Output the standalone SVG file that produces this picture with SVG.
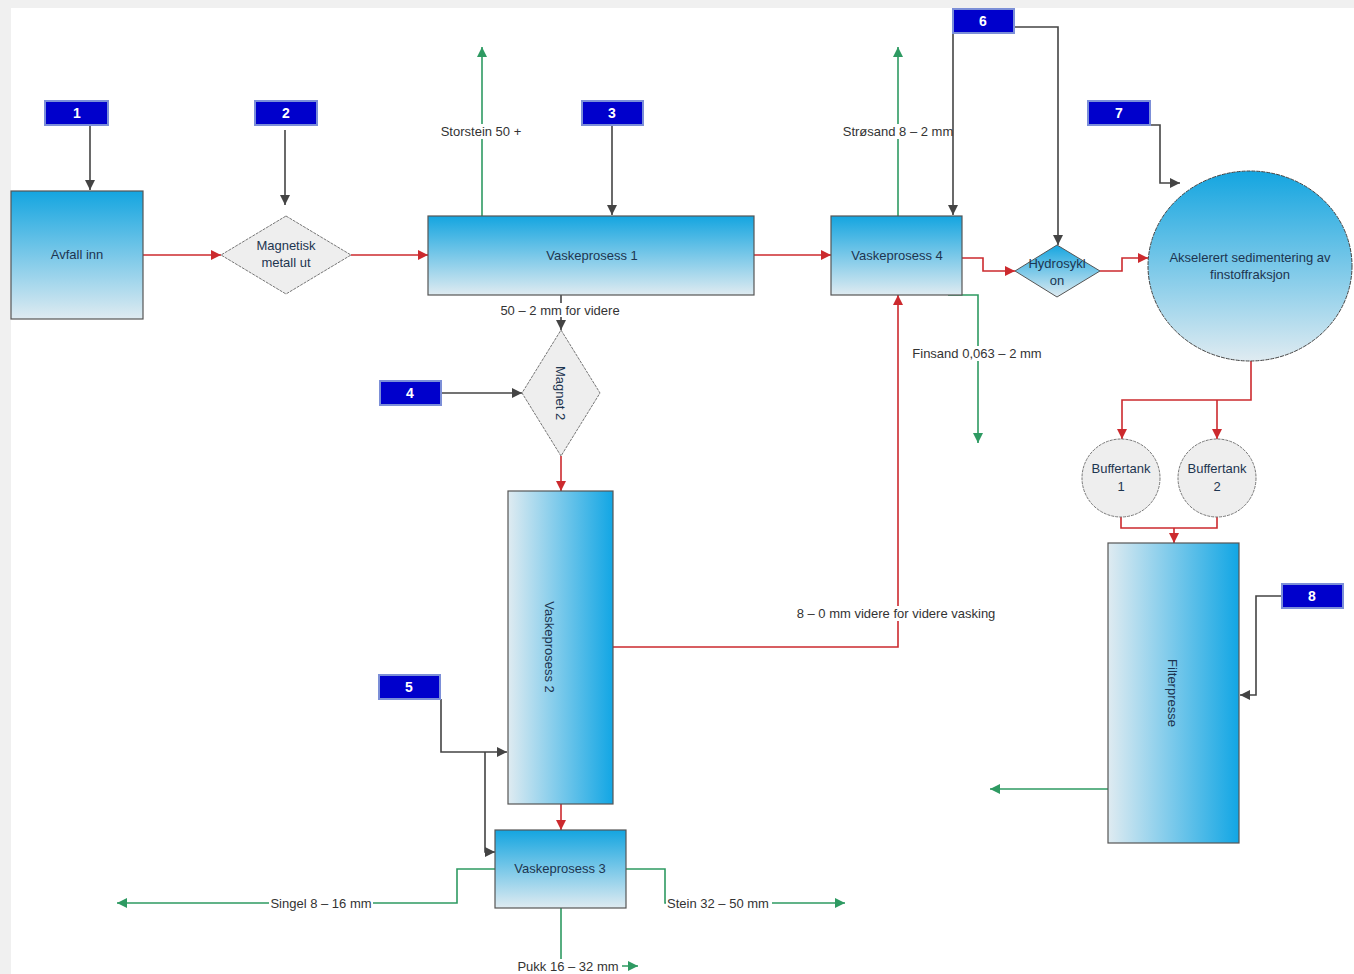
<svg xmlns="http://www.w3.org/2000/svg" width="1354" height="974" viewBox="0 0 1354 974">
<style>
.t{font-family:"Liberation Sans",Arial,sans-serif;font-size:13px;fill:#1d3550;text-anchor:middle}
.l{font-family:"Liberation Sans",Arial,sans-serif;font-size:13px;fill:#333;text-anchor:middle}
.num{font-family:"Liberation Sans",Arial,sans-serif;font-size:14px;font-weight:bold;fill:#fff;text-anchor:middle}
.tag{fill:#0000cc;stroke:#7c8fd8;stroke-width:2}
.box{stroke:#555;stroke-width:1.2}
.gray{fill:#eeeeee;stroke:#777;stroke-width:1;stroke-dasharray:3 1}
.red{fill:none;stroke:#cc2a2e;stroke-width:1.6}
.grn{fill:none;stroke:#2e9a62;stroke-width:1.6}
.drk{fill:none;stroke:#444;stroke-width:1.6}
.bg{fill:#fff}
</style>
<defs>
<linearGradient id="gv" x1="0" y1="0" x2="0" y2="1"><stop offset="0" stop-color="#14a5e0"/><stop offset="1" stop-color="#dfebf1"/></linearGradient>
<linearGradient id="gh" x1="0" y1="0" x2="1" y2="0"><stop offset="0" stop-color="#dfebf1"/><stop offset="1" stop-color="#12a6e4"/></linearGradient>
<marker id="ar" viewBox="0 0 10 10" refX="10" refY="5" markerWidth="10" markerHeight="10" markerUnits="userSpaceOnUse" orient="auto"><path d="M0,0L10,5L0,10z" fill="#cc2a2e"/></marker>
<marker id="ag" viewBox="0 0 10 10" refX="10" refY="5" markerWidth="10" markerHeight="10" markerUnits="userSpaceOnUse" orient="auto"><path d="M0,0L10,5L0,10z" fill="#2e9a62"/></marker>
<marker id="ad" viewBox="0 0 10 10" refX="10" refY="5" markerWidth="10" markerHeight="10" markerUnits="userSpaceOnUse" orient="auto"><path d="M0,0L10,5L0,10z" fill="#444"/></marker>
</defs>
<rect width="1354" height="974" fill="#f0f0f0"/>
<rect x="11" y="8" width="1343" height="966" fill="#fff"/>

<g id="connectors">
<path class="drk" d="M90,125V190" marker-end="url(#ad)"/>
<path class="drk" d="M285,130V205" marker-end="url(#ad)"/>
<path class="red" d="M143,255H221" marker-end="url(#ar)"/>
<path class="red" d="M351,255H428" marker-end="url(#ar)"/>
<path class="grn" d="M482,216V47" marker-end="url(#ag)"/>
<path class="drk" d="M612,125V215" marker-end="url(#ad)"/>
<path class="red" d="M754,255H831" marker-end="url(#ar)"/>
<path class="drk" d="M561,295V330" stroke-width="1" marker-end="url(#ad)"/>
<path class="drk" d="M441,393H522" marker-end="url(#ad)"/>
<path class="red" d="M561,456V491" marker-end="url(#ar)"/>
<path class="red" d="M613,647H898V295" marker-end="url(#ar)"/>
<path class="grn" d="M898,216V47" marker-end="url(#ag)"/>
<path class="drk" d="M953,33V215" marker-end="url(#ad)"/>
<path class="drk" d="M1014,27H1058V245" marker-end="url(#ad)"/>
<path class="red" d="M962,258H983V271H1015" marker-end="url(#ar)"/>
<path class="red" d="M1100,271H1122V258H1148" marker-end="url(#ar)"/>
<path class="drk" d="M1132,125H1160V183H1180" marker-end="url(#ad)"/>
<path class="grn" d="M948,295H978V443" marker-end="url(#ag)"/>
<path class="red" d="M1251,361V400H1122V439" marker-end="url(#ar)"/>
<path class="red" d="M1217,400V439" marker-end="url(#ar)"/>
<path class="red" d="M1121,517V528H1217V517"/>
<path class="red" d="M1174,528V543" marker-end="url(#ar)"/>
<path class="drk" d="M1282,596H1256V695H1240" marker-end="url(#ad)"/>
<path class="grn" d="M1108,789H990" marker-end="url(#ag)"/>
<path class="drk" d="M441,699V752H507" marker-end="url(#ad)"/>
<path class="drk" d="M485,752V852H495" marker-end="url(#ad)"/>
<path class="red" d="M561,804V830" marker-end="url(#ar)"/>
<path class="grn" d="M495,869H457V903H117" marker-end="url(#ag)"/>
<path class="grn" d="M626,869H665V903H845" marker-end="url(#ag)"/>
<path class="grn" d="M561,908V966H638" marker-end="url(#ag)"/>
</g>

<g id="labels">
<rect class="bg" x="438" y="124" width="86" height="15"/><text class="l" x="481" y="136">Storstein 50 +</text>
<rect class="bg" x="840" y="124" width="111" height="15"/><text class="l" x="898" y="136">Strøsand 8 – 2 mm</text>
<rect class="bg" x="500" y="303" width="120" height="14"/><text class="l" x="560" y="315">50 – 2 mm for videre</text>
<rect class="bg" x="910" y="346" width="135" height="15"/><text class="l" x="977" y="358">Finsand 0,063 – 2 mm</text>
<rect class="bg" x="791" y="606" width="211" height="15"/><text class="l" x="896" y="618">8 – 0 mm videre for videre vasking</text>
<rect class="bg" x="269" y="896" width="104" height="15"/><text class="l" x="321" y="908">Singel 8 – 16 mm</text>
<rect class="bg" x="666" y="896" width="106" height="15"/><text class="l" x="718" y="908">Stein 32 – 50 mm</text>
<rect class="bg" x="517" y="959" width="105" height="15"/><text class="l" x="568" y="971">Pukk 16 – 32 mm</text>
</g>

<g id="tag1"><rect class="tag" x="45" y="101" width="63" height="24"/><text class="num" x="77" y="118">1</text></g>
<g id="tag2"><rect class="tag" x="255" y="101" width="62" height="24"/><text class="num" x="286" y="118">2</text></g>
<g id="tag3"><rect class="tag" x="582" y="101" width="61" height="24"/><text class="num" x="612" y="118">3</text></g>
<g id="tag4"><rect class="tag" x="380" y="381" width="61" height="24"/><text class="num" x="410" y="398">4</text></g>
<g id="tag5"><rect class="tag" x="379" y="675" width="61" height="24"/><text class="num" x="409" y="692">5</text></g>
<g id="tag6"><rect class="tag" x="953" y="9" width="61" height="24"/><text class="num" x="983" y="26">6</text></g>
<g id="tag7"><rect class="tag" x="1088" y="101" width="62" height="24"/><text class="num" x="1119" y="118">7</text></g>
<g id="tag8"><rect class="tag" x="1282" y="584" width="61" height="24"/><text class="num" x="1312" y="601">8</text></g>

<g id="avfall"><rect class="box" x="11" y="191" width="132" height="128" fill="url(#gv)"/><text class="t" x="77" y="259">Avfall inn</text></g>
<g id="magnetisk"><path class="gray" d="M286,216L351,255L286,294L221,255Z"/><text class="t" x="286" y="250">Magnetisk</text><text class="t" x="286" y="267">metall ut</text></g>
<g id="vask1"><rect class="box" x="428" y="216" width="326" height="79" fill="url(#gv)"/><text class="t" x="592" y="260">Vaskeprosess 1</text></g>
<g id="vask4"><rect class="box" x="831" y="216" width="131" height="79" fill="url(#gv)"/><text class="t" x="897" y="260">Vaskeprosess 4</text></g>
<g id="hydro"><path d="M1057,245L1100,271L1057,297L1015,271Z" fill="url(#gv)" stroke="#555" stroke-width="1"/><text class="t" x="1057" y="268">Hydrosykl</text><text class="t" x="1057" y="285">on</text></g>
<g id="sediment"><ellipse cx="1250" cy="266" rx="102" ry="95" fill="url(#gv)" stroke="#444" stroke-width="1" stroke-dasharray="4 1"/><text class="t" x="1250" y="262">Akselerert sedimentering av</text><text class="t" x="1250" y="279">finstoffraksjon</text></g>
<g id="magnet2"><path class="gray" d="M561,330L600,393L561,456L522,393Z"/><text class="t" transform="translate(556,393) rotate(90)">Magnet 2</text></g>
<g id="vask2"><rect class="box" x="508" y="491" width="105" height="313" fill="url(#gh)"/><text class="t" transform="translate(545,647) rotate(90)">Vaskeprosess 2</text></g>
<g id="vask3"><rect class="box" x="495" y="830" width="131" height="78" fill="url(#gv)"/><text class="t" x="560" y="873">Vaskeprosess 3</text></g>
<g id="buffer1"><circle class="gray" cx="1121" cy="478" r="39"/><text class="t" x="1121" y="473">Buffertank</text><text class="t" x="1121" y="491">1</text></g>
<g id="buffer2"><circle class="gray" cx="1217" cy="478" r="39"/><text class="t" x="1217" y="473">Buffertank</text><text class="t" x="1217" y="491">2</text></g>
<g id="filter"><rect class="box" x="1108" y="543" width="131" height="300" fill="url(#gh)"/><text class="t" transform="translate(1168,693) rotate(90)">Filterpresse</text></g>
</svg>
